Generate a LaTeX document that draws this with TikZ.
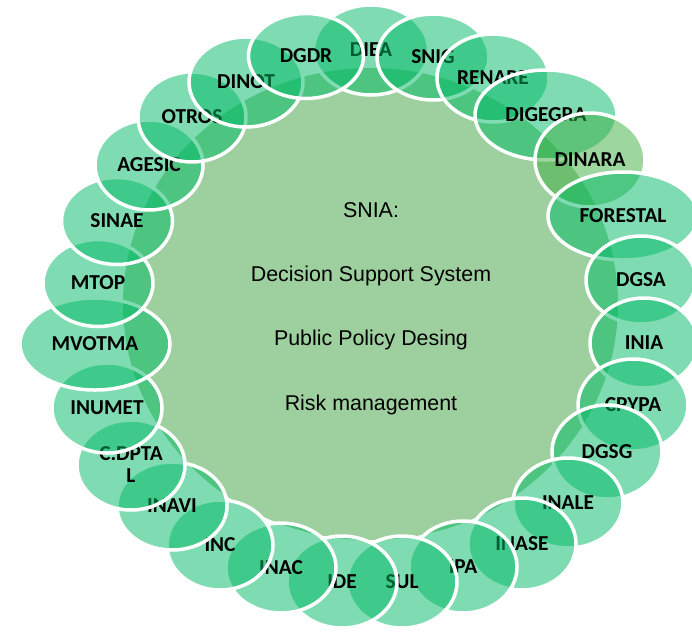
\documentclass[tikz,border=0pt]{standalone}
\usepackage{fontspec}
\setmainfont{Carlito}
\newfontfamily\arialf{Liberation Sans}
\usetikzlibrary{shapes.geometric}
\definecolor{centralgreen}{RGB}{158,208,159}
\definecolor{satgreen}{RGB}{0,185,101}
\definecolor{dinaragreen}{RGB}{61,173,65}
\begin{document}
\begin{tikzpicture}[x=1pt,y=-1pt,
  sat/.style={ellipse, draw=white, line width=3.5pt, fill=satgreen,
    fill opacity=0.5, draw opacity=1, text opacity=1, inner sep=0pt,
    minimum width=110pt, minimum height=90pt,
    font=\fontsize{21.3}{22}\selectfont\bfseries, align=center},
  hub/.style={ellipse, fill=centralgreen, minimum width=495pt,
    minimum height=472pt, inner sep=0pt},
  hubtext/.style={anchor=base, font=\arialf\fontsize{21.4}{25}\selectfont}]
\useasboundingbox (0,0) rectangle (692,633);
\clip (0,0) rectangle (692,633);
\node[hub] (hub) at (370.5,304) {};
\node[hubtext] (t1) at (371,217.5) {SNIA:};
\node[hubtext] (t2) at (371,281.7) {Decision Support System};
\node[hubtext] (t3) at (371,345.8) {Public Policy Desing};
\node[hubtext] (t4) at (371,410) {Risk management};
% satellites, clockwise from top
\node[sat, minimum width=115pt] (s1) at (371,50) {DIEA};
\node[sat, minimum width=112pt, minimum height=86pt] (s2) at (433,57) {SNIG};
\node[sat, minimum width=112pt, minimum height=88pt] (s3) at (493,78) {RENARE};
\node[sat, minimum width=142pt] (s4) at (546,115) {DIGEGRA};
\node[sat, fill=dinaragreen, minimum height=94pt] (s5) at (590,160) {DINARA};
\node[sat, minimum width=150pt, minimum height=88pt] (s6) at (623,216) {FORESTAL};
\node[sat, minimum height=88pt] (s7) at (641,280) {DGSA};
\node[sat, minimum width=108pt] (s8) at (644,343) {INIA};
\node[sat, minimum height=92pt] (s9) at (633,405) {CPYPA};
\node[sat, minimum height=94pt] (s10) at (607,452) {DGSG};
\node[sat] (s11) at (568,503) {INALE};
\node[sat, minimum width=108pt, minimum height=92pt] (s12) at (522,544) {INASE};
\node[sat, minimum width=108pt, minimum height=92pt] (s13) at (463,567) {IPA};
\node[sat, minimum height=92pt] (s14) at (402,582) {SUL};
\node[sat, minimum height=92pt] (s15) at (342,582) {IDE};
\node[sat] (s16) at (281,568) {INAC};
\node[sat, minimum width=106pt] (s17) at (220,545) {INC};
\node[sat, minimum height=88pt] (s18) at (172,506) {INAVI};
\node[sat, minimum width=108pt] (s19) at (131,465) {C.DPTA\\L};
\node[sat] (s20) at (107,408) {INUMET};
\node[sat, minimum width=150pt, minimum height=92pt] (s21) at (95,344) {MVOTMA};
\node[sat, minimum height=87pt] (s22) at (98,283) {MTOP};
\node[sat, minimum width=111pt, minimum height=87pt] (s23) at (117,221) {SINAE};
\node[sat, minimum width=108pt] (s24) at (149,165) {AGESIC};
\node[sat, minimum width=108pt] (s25) at (192,117) {OTROS};
\node[sat, minimum width=114pt] (s26) at (246,82) {DINOT};
\node[sat, minimum width=115pt, minimum height=85pt] (s27) at (306,56) {DGDR};
\end{tikzpicture}
\end{document}
